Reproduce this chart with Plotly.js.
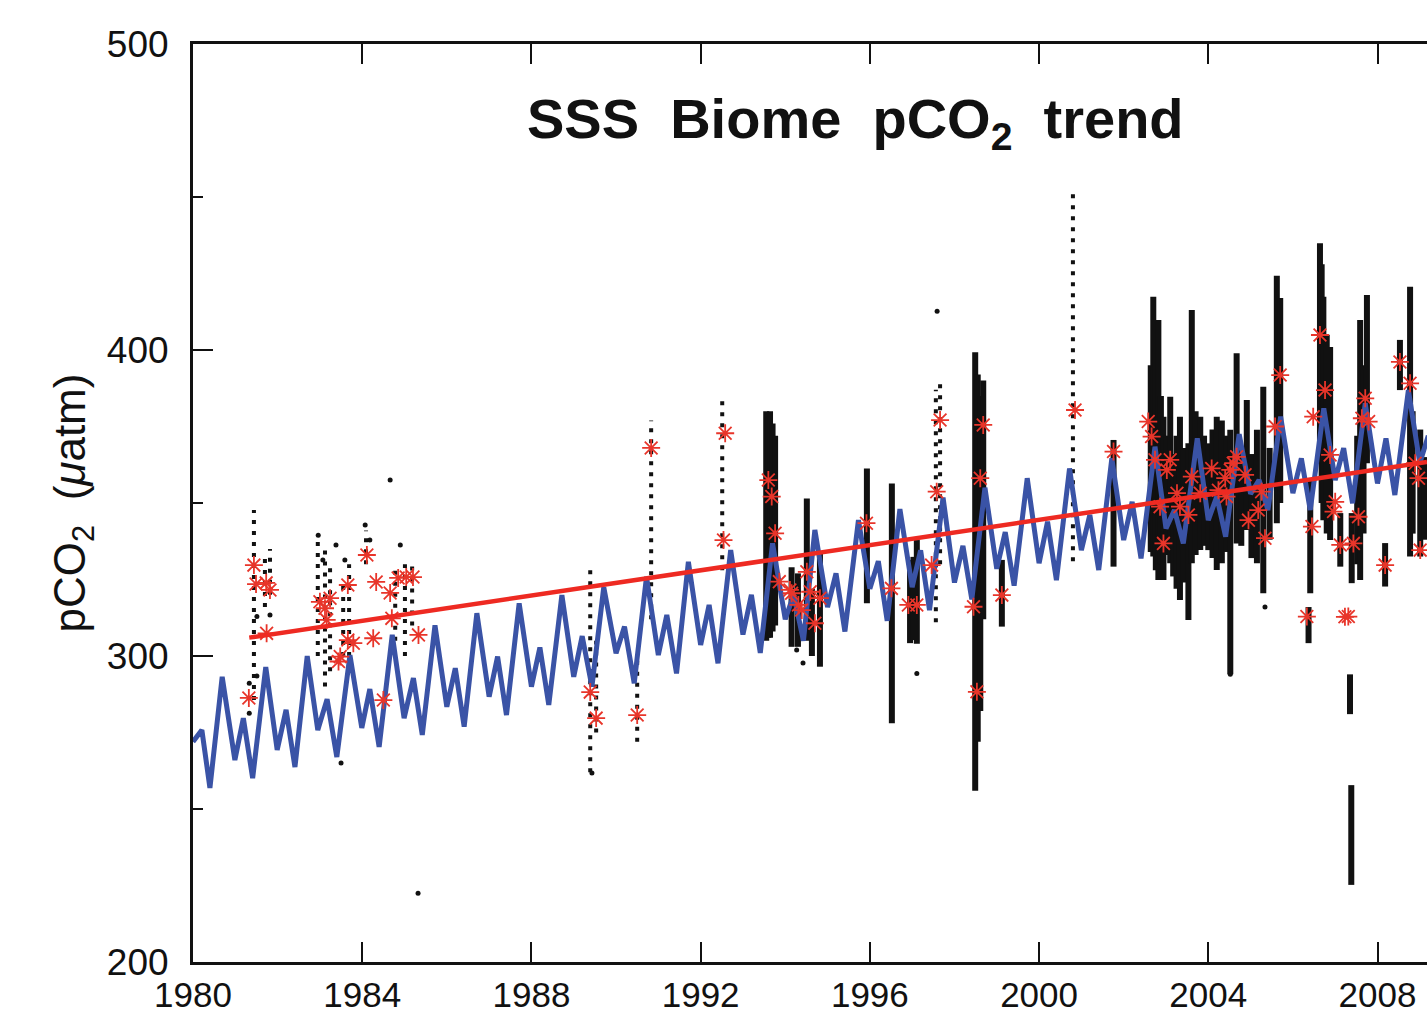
<!DOCTYPE html>
<html>
<head>
<meta charset="utf-8">
<script src="https://cdn.plot.ly/plotly-3.0.1.min.js"></script>
<style>html,body{margin:0;padding:0;background:#fff;}#chart{width:1427px;height:1015px;}</style>
</head>
<body>
<div id="chart"></div>
<script>
// Modeled seasonal pCO2 (blue line): vertex times and values
const blueT = [
 1980.00,1980.21,1980.40,1980.69, 1980.99,1981.19,1981.41,1981.72,
 1981.99,1982.20,1982.41,1982.70, 1982.95,1983.17,1983.40,1983.71,
 1983.99,1984.18,1984.40,1984.71, 1984.99,1985.21,1985.42,1985.72,
 1986.00,1986.20,1986.41,1986.71, 1987.00,1987.20,1987.41,1987.71,
 1988.00,1988.20,1988.41,1988.72, 1989.00,1989.20,1989.43,1989.71,
 1990.00,1990.20,1990.43,1990.72, 1991.00,1991.20,1991.43,1991.71,
 1992.00,1992.20,1992.41,1992.71, 1993.00,1993.20,1993.41,1993.70,
 1994.00,1994.20,1994.43,1994.70, 1995.00,1995.20,1995.41,1995.73,
 1996.00,1996.20,1996.41,1996.71, 1997.00,1997.20,1997.41,1997.73,
 1998.00,1998.20,1998.41,1998.72, 1999.00,1999.20,1999.41,1999.72,
 2000.00,2000.20,2000.41,2000.72, 2001.00,2001.20,2001.41,2001.72,
 2002.00,2002.20,2002.41,2002.74, 2003.00,2003.20,2003.41,2003.74,
 2004.00,2004.20,2004.41,2004.73, 2005.00,2005.20,2005.41,2005.71,
 2006.00,2006.20,2006.41,2006.73, 2007.00,2007.20,2007.41,2007.71,
 2008.00,2008.20,2008.41,2008.73, 2009.00,2009.20
];
const blueV = [
 272.0,275.8,256.9,293.2, 266.0,279.7,260.1,296.4,
 269.3,282.4,263.7,300.0, 275.8,285.9,267.0,300.3,
 276.5,289.2,270.3,306.9, 279.7,292.8,274.2,310.0,
 283.4,296.0,276.9,314.0, 286.7,299.8,280.7,317.2,
 290.0,302.8,284.0,319.9, 293.2,306.5,290.0,322.5,
 300.9,309.6,291.1,325.9, 300.3,313.4,294.3,330.8,
 303.6,316.7,297.6,334.6, 307.0,320.0,301.0,336.8,
 312.0,320.0,305.0,341.2, 316.0,327.0,308.0,344.4,
 322.0,331.0,311.5,348.0, 322.5,334.5,315.0,351.8,
 324.0,336.0,318.5,355.0, 328.5,340.5,323.0,358.1,
 330.3,343.9,324.8,361.3, 334.6,346.1,328.1,364.6,
 337.9,350.4,331.9,368.4, 341.7,347.7,336.8,371.1,
 344.4,352.1,339.0,372.5, 353.0,357.5,347.7,378.2,
 353.2,364.6,347.7,380.9, 357.5,367.9,349.9,382.6,
 356.4,371.1,352.6,386.9, 363.0,372.0
];

// Linear trend (red line)
const trendT = [1981.33, 2009.17];
const trendV = [306.0, 363.4];

// Dense observation streaks (time, low, high)
const denseT  = [1993.55,1993.60,1993.64,1993.70,1993.76,1994.15,1994.30,1994.51,1994.63,1994.82,1995.93,1996.52,1996.95,1997.03,1997.11,1998.49,1998.55,1998.61,1998.68,1999.12,2001.76,
                 2002.64,2002.70,2002.76,2002.82,2002.88,2002.94,2003.02,2003.10,2003.17,2003.25,2003.33,2003.42,2003.53,2003.61,2003.70,2003.81,2003.90,2004.00,2004.10,2004.20,2004.32,2004.42,2004.52,2004.67,2004.78,2004.91,2005.02,2005.15,2005.30,2005.45,2005.62,2005.70,
                 2006.37,2006.41,2006.64,2006.68,2006.72,2006.80,2006.88,2007.12,2007.35,2007.38,2007.39,2007.52,2007.59,2007.67,2007.75,2008.18,2008.53,2008.77,2008.83,2009.01,2009.10];
const denseHi = [380.0,378.0,380.0,376.0,372.0,329.0,327.0,351.5,322.0,333.6,361.3,356.4,331.4,332.4,337.9,399.3,392.0,385.0,390.0,331.4,370.6,
                 395.0,417.4,400.0,409.8,385.0,378.2,372.0,384.7,366.0,372.0,378.2,368.0,369.5,413.1,380.0,378.2,372.0,369.5,374.0,378.2,377.0,372.0,373.9,398.9,368.0,383.7,366.0,373.9,388.0,368.0,424.3,417.0,
                 316.0,357.5,434.9,428.0,417.4,405.0,401.0,346.7,294.0,257.8,346.7,372.0,409.8,395.0,418.0,336.9,403.3,420.7,380.0,374.0,365.0];
const denseLo = [305.0,306.0,306.0,308.0,310.0,303.0,303.0,305.0,300.0,296.5,317.2,278.0,304.2,305.2,304.0,256.0,272.0,282.0,312.0,309.6,329.2,
                 334.0,332.5,328.0,324.8,330.0,324.8,333.0,330.3,326.0,322.0,318.3,324.0,311.8,330.3,333.0,334.6,336.0,334.6,332.0,328.1,330.3,334.0,294.0,336.8,336.0,341.2,332.0,330.3,320.5,338.0,343.4,350.0,
                 304.2,320.5,362.9,350.0,344.4,340.0,337.9,329.2,281.0,225.2,323.8,330.0,324.8,340.0,363.0,322.7,386.9,332.5,340.0,332.5,338.0];

// Sparse (dotted) observation columns
const sparseT  = [1981.44,1981.70,1981.82,1982.95,1983.12,1983.24,1983.55,1983.69,1984.09,1984.78,1985.01,1985.18,1989.39,1989.53,1990.50,1990.83,1992.51,1997.56,1997.66,2000.80];
const sparseHi = [347.7,333.0,335.0,338.0,335.0,330.0,325.0,330.0,341.0,330.0,330.0,330.0,330.0,305.0,300.0,377.0,385.0,387.0,390.0,451.6];
const sparseLo = [285.6,316.0,320.0,300.0,290.0,295.0,300.0,300.0,330.0,305.0,300.0,310.0,262.0,275.0,272.0,312.0,328.0,311.0,330.0,331.0];

// Isolated observations
const dotT = [1981.33,1981.33,1981.51,1981.82,1981.51,1982.96,1983.07,1983.38,1983.50,1983.59,1984.07,1984.18,1984.66,1984.90,1985.32,1989.43,1994.27,1994.42,1997.11,1997.59,2004.52,2005.34];
const dotV = [291.1,281.3,293.5,313.4,312.9,339.5,331.4,336.3,265.0,331.4,342.8,337.9,357.5,336.3,222.5,261.8,302.0,297.7,294.3,412.7,294.0,316.0];

// Monthly biome means (red asterisks)
const redT = [1981.32,1981.44,1981.49,1981.73,1981.82,1981.74,1983.00,1983.12,1983.16,1983.24,1983.48,1983.44,1983.79,1983.66,1983.66,1984.11,1984.33,1984.26,1984.50,1984.70,1984.66,1984.85,1985.04,1985.20,1985.33,
              1989.39,1989.53,1990.50,1990.83,1992.58,1992.54,1993.60,1993.68,1993.76,1993.86,1994.11,1994.15,1994.31,1994.39,1994.51,1994.59,1994.82,1994.70,1995.92,1996.51,1996.91,1997.11,1997.46,1997.58,1997.66,1998.45,1998.61,1998.68,1998.53,1999.12,2000.85,2001.76,
              2002.58,2002.66,2002.74,2003.10,2003.02,2002.86,2002.94,2003.26,2003.33,2003.53,2003.61,2003.81,2004.08,2004.24,2004.40,2004.52,2004.59,2004.67,2004.43,2004.87,2004.95,2005.18,2005.26,2005.34,2005.58,2005.70,
              2006.45,2006.48,2006.64,2006.76,2006.88,2007.00,2006.96,2007.12,2007.43,2007.55,2007.71,2007.63,2007.79,2006.33,2007.31,2007.23,2008.18,2008.53,2008.77,2008.97,2008.89,2009.01];
const redV = [286.3,329.7,323.5,323.9,321.6,307.4,317.7,315.6,311.8,318.9,299.8,298.2,304.2,305.2,323.2,333.0,324.2,305.8,285.6,312.3,320.6,325.5,325.8,325.8,306.9,
              288.2,279.7,280.7,368.0,372.8,337.9,357.5,352.1,340.1,324.3,321.6,320.5,316.7,315.0,327.5,321.0,318.9,310.7,343.4,322.1,316.7,316.7,329.7,353.7,377.1,316.1,358.1,375.5,288.3,319.9,380.4,366.8,
              376.6,371.7,364.1,364.1,360.8,348.8,336.8,353.2,348.8,346.1,358.6,353.2,361.3,354.2,358.1,360.8,363.0,365.1,352.1,359.2,344.4,347.7,353.7,338.5,375.0,391.8,
              342.3,378.2,404.9,386.9,365.7,350.4,347.2,336.3,336.8,345.5,384.2,377.7,376.6,312.9,312.9,312.8,329.7,396.1,389.1,358.1,363.0,334.6];

function segs(t, lo, hi) {
  const x = [], y = [];
  for (let i = 0; i < t.length; i++) { x.push(t[i], t[i], null); y.push(lo[i], hi[i], null); }
  return {x, y};
}
const dS = segs(denseT, denseLo, denseHi);
const sS = segs(sparseT, sparseLo, sparseHi);

const FONT = '"Liberation Sans", Arial, Helvetica, sans-serif';

const traces = [
  {x: sS.x, y: sS.y, mode: 'lines', line: {color: '#111', width: 4, dash: '4px,7px'}, connectgaps: false, hoverinfo: 'skip', showlegend: false},
  {x: dS.x, y: dS.y, mode: 'lines', line: {color: '#111', width: 6}, connectgaps: false, hoverinfo: 'skip', showlegend: false},
  {x: dotT, y: dotV, mode: 'markers', marker: {color: '#111', size: 5}, hoverinfo: 'skip', showlegend: false},
  {x: blueT, y: blueV, mode: 'lines', line: {color: '#3a53a6', width: 5}, hoverinfo: 'skip', showlegend: false},
  {x: redT, y: redV, mode: 'markers', marker: {symbol: 'asterisk-open', color: '#e8352a', size: 15, line: {color: '#e8352a', width: 1.8}}, hoverinfo: 'skip', showlegend: false},
  {x: trendT, y: trendV, mode: 'lines', line: {color: '#ee2a22', width: 4.5}, hoverinfo: 'skip', showlegend: false}
];

const layout = {
  width: 1427, height: 1015,
  margin: {l: 193, r: 0, t: 44, b: 53, pad: 0},
  paper_bgcolor: '#fff', plot_bgcolor: '#fff',
  font: {family: FONT, color: '#111'},
  showlegend: false,
  hovermode: false,
  xaxis: {
    range: [1980, 2009.17], tick0: 1980, dtick: 4, tickmode: 'linear',
    ticks: 'inside', ticklen: 20, tickwidth: 2, tickcolor: '#111',
    showline: true, linewidth: 3, linecolor: '#111', mirror: 'ticks',
    showgrid: false, zeroline: false,
    tickfont: {size: 35, family: FONT, color: '#111'},
    ticklabelstandoff: 0
  },
  yaxis: {
    range: [200, 500], tick0: 200, dtick: 100, tickmode: 'linear',
    ticks: 'inside', ticklen: 20, tickwidth: 2, tickcolor: '#111',
    minor: {ticks: 'inside', dtick: 50, ticklen: 10, tickwidth: 2, tickcolor: '#111', showgrid: false},
    showline: true, linewidth: 3, linecolor: '#111', mirror: false,
    showgrid: false, zeroline: false,
    tickfont: {size: 37, family: FONT, color: '#111'},
    ticklabelstandoff: 14,
    title: {text: 'pCO<sub>2</sub>\u00a0\u00a0(<i>\u03bc</i>atm)', font: {size: 44, family: FONT, color: '#111'}, standoff: 8}
  },
  annotations: [{
    xref: 'paper', yref: 'paper', x: 0.537, y: 0.914, xanchor: 'center', yanchor: 'middle',
    text: '<b>SSS\u00a0\u00a0Biome\u00a0\u00a0pCO<sub>2</sub>\u00a0\u00a0trend</b>',
    showarrow: false, font: {size: 56, family: FONT, color: '#111'}
  }]
};

Plotly.newPlot('chart', traces, layout, {staticPlot: true, displayModeBar: false});
</script>
</body>
</html>
